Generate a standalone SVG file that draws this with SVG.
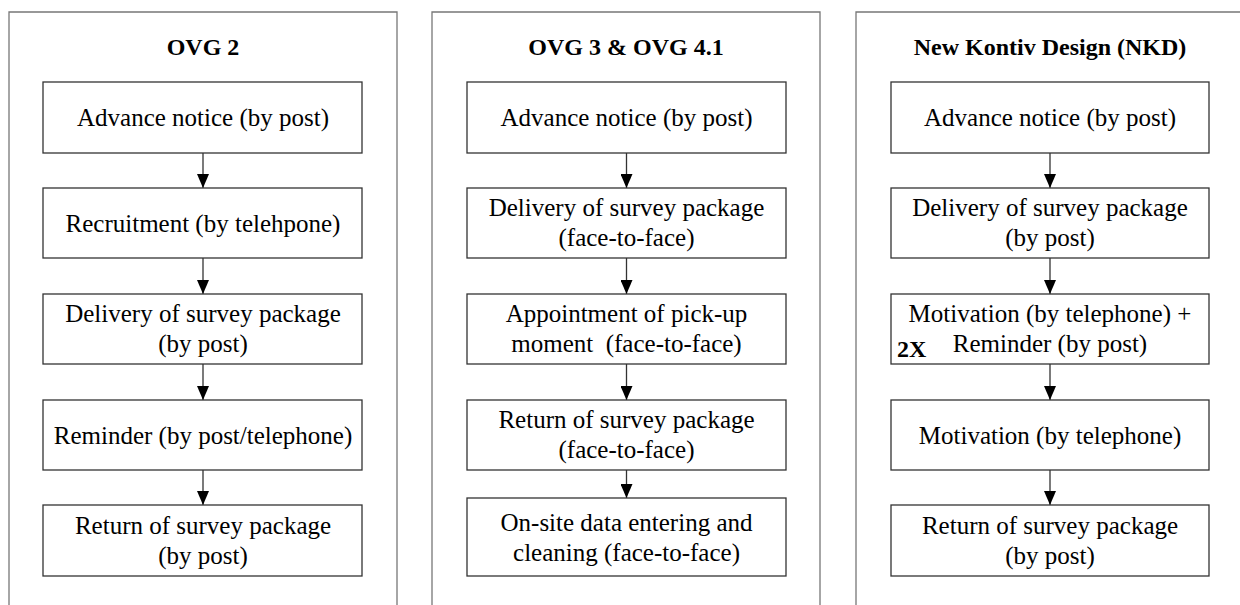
<svg xmlns="http://www.w3.org/2000/svg" width="1240" height="605" viewBox="0 0 1240 605">
<style>
.panel{fill:none;stroke:#777;stroke-width:1.3}
.box{fill:#fff;stroke:#333;stroke-width:1.3}
.t{font-family:"Liberation Serif","Times New Roman",serif;font-size:25px;fill:#000;text-anchor:middle;white-space:pre}
.h{font-family:"Liberation Serif","Times New Roman",serif;font-size:24px;font-weight:bold;fill:#000;text-anchor:middle}
.b{font-family:"Liberation Serif","Times New Roman",serif;font-size:24px;font-weight:bold;fill:#000}
.c{stroke:#333;stroke-width:1.3;fill:none}
</style>
<defs>
<marker id="ah" markerWidth="14" markerHeight="12" refX="14" refY="6" orient="auto" markerUnits="userSpaceOnUse" viewBox="0 0 14 12">
<path d="M0,0 L14,6 L0,12 z" fill="#000"/>
</marker>
</defs>
<rect width="1240" height="605" fill="#fff"/>
<g id="panels">
<path class="panel" d="M9,606 V12 H397 V606"/>
<path class="panel" d="M432,606 V12 H820 V606"/>
<path class="panel" d="M856,606 V12 H1241"/>
</g>
<g id="titles">
<text class="h" x="203" y="55">OVG 2</text>
<text class="h" x="626" y="55">OVG 3 &amp; OVG 4.1</text>
<text class="h" x="1050" y="55">New Kontiv Design (NKD)</text>
</g>
<g id="connectors">
<line class="c" x1="203" y1="153" x2="203" y2="188" marker-end="url(#ah)"/>
<line class="c" x1="203" y1="258" x2="203" y2="294" marker-end="url(#ah)"/>
<line class="c" x1="203" y1="364" x2="203" y2="400" marker-end="url(#ah)"/>
<line class="c" x1="203" y1="470" x2="203" y2="505" marker-end="url(#ah)"/>
<line class="c" x1="626.5" y1="153" x2="626.5" y2="188" marker-end="url(#ah)"/>
<line class="c" x1="626.5" y1="258" x2="626.5" y2="294" marker-end="url(#ah)"/>
<line class="c" x1="626.5" y1="364" x2="626.5" y2="400" marker-end="url(#ah)"/>
<line class="c" x1="626.5" y1="470" x2="626.5" y2="498" marker-end="url(#ah)"/>
<line class="c" x1="1050" y1="153" x2="1050" y2="188" marker-end="url(#ah)"/>
<line class="c" x1="1050" y1="258" x2="1050" y2="294" marker-end="url(#ah)"/>
<line class="c" x1="1050" y1="364" x2="1050" y2="400" marker-end="url(#ah)"/>
<line class="c" x1="1050" y1="470" x2="1050" y2="505" marker-end="url(#ah)"/>
</g>
<g id="p1n1"><rect class="box" x="43" y="82" width="319" height="71"/><text class="t" x="203" y="126">Advance notice (by post)</text></g>
<g id="p1n2"><rect class="box" x="43" y="188" width="319" height="70"/><text class="t" x="203" y="232">Recruitment (by telehpone)</text></g>
<g id="p1n3"><rect class="box" x="43" y="294" width="319" height="70"/><text class="t" x="203" y="322">Delivery of survey package</text><text class="t" x="203" y="352">(by post)</text></g>
<g id="p1n4"><rect class="box" x="43" y="400" width="319" height="70"/><text class="t" x="203" y="444">Reminder (by post/telephone)</text></g>
<g id="p1n5"><rect class="box" x="43" y="505" width="319" height="71"/><text class="t" x="203" y="534">Return of survey package</text><text class="t" x="203" y="564">(by post)</text></g>
<g id="p2n1"><rect class="box" x="467" y="82" width="319" height="71"/><text class="t" x="626.5" y="126">Advance notice (by post)</text></g>
<g id="p2n2"><rect class="box" x="467" y="188" width="319" height="70"/><text class="t" x="626.5" y="216">Delivery of survey package</text><text class="t" x="626.5" y="246">(face-to-face)</text></g>
<g id="p2n3"><rect class="box" x="467" y="294" width="319" height="70"/><text class="t" x="626.5" y="322">Appointment of pick-up</text><text class="t" x="626.5" y="352">moment  (face-to-face)</text></g>
<g id="p2n4"><rect class="box" x="467" y="400" width="319" height="70"/><text class="t" x="626.5" y="428">Return of survey package</text><text class="t" x="626.5" y="458">(face-to-face)</text></g>
<g id="p2n5"><rect class="box" x="467" y="498" width="319" height="78"/><text class="t" x="626.5" y="531">On-site data entering and</text><text class="t" x="626.5" y="561">cleaning (face-to-face)</text></g>
<g id="p3n1"><rect class="box" x="891" y="82" width="318" height="71"/><text class="t" x="1050" y="126">Advance notice (by post)</text></g>
<g id="p3n2"><rect class="box" x="891" y="188" width="318" height="70"/><text class="t" x="1050" y="216">Delivery of survey package</text><text class="t" x="1050" y="246">(by post)</text></g>
<g id="p3n3"><rect class="box" x="891" y="294" width="318" height="70"/><text class="t" x="1050" y="322">Motivation (by telephone) +</text><text class="t" x="1050" y="352">Reminder (by post)</text><text class="b" x="897" y="357">2X</text></g>
<g id="p3n4"><rect class="box" x="891" y="400" width="318" height="70"/><text class="t" x="1050" y="444">Motivation (by telephone)</text></g>
<g id="p3n5"><rect class="box" x="891" y="505" width="318" height="71"/><text class="t" x="1050" y="534">Return of survey package</text><text class="t" x="1050" y="564">(by post)</text></g>
</svg>
